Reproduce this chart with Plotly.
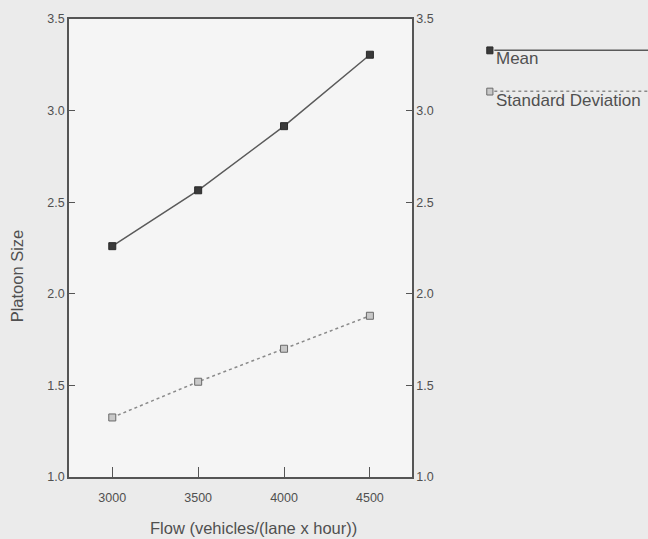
import plotly.graph_objects as go

flow = [3000, 3500, 4000, 4500]
mean_size = [2.26, 2.565, 2.915, 3.305]
sd_size = [1.325, 1.52, 1.70, 1.88]
x_ticks = [3000, 3500, 4000, 4500]
y_ticks = [1.0, 1.5, 2.0, 2.5, 3.0, 3.5]

font = "Liberation Sans, Arial, sans-serif"
axc = "#555555"
txt = "#505050"

fig = go.Figure()
fig.add_trace(go.Scatter(
    x=flow, y=mean_size, mode="lines+markers", name="Mean",
    line=dict(color="#5a5a5a", width=1.5),
    marker=dict(symbol="square", size=7, color="#3a3a3a", line=dict(color="#2a2a2a", width=1)),
    showlegend=False))
fig.add_trace(go.Scatter(
    x=flow, y=sd_size, mode="lines+markers", name="Standard Deviation",
    line=dict(color="#8a8a8a", width=1.5, dash="dot"),
    marker=dict(symbol="square", size=7, color="#c8c8c8", line=dict(color="#6a6a6a", width=1)),
    showlegend=False))
fig.add_trace(go.Scatter(x=flow, y=mean_size, yaxis="y2", mode="none",
                         hoverinfo="skip", showlegend=False))

fig.update_layout(
    width=648, height=539,
    margin=dict(l=69, r=236, t=14, b=62),
    paper_bgcolor="#ebebeb", plot_bgcolor="#f5f5f5",
    font=dict(family=font, color=txt, size=12),
    xaxis=dict(range=[2748, 4745], tickvals=x_ticks, ticks="inside", ticklen=10,
               tickcolor=axc, showline=True, linecolor=axc, linewidth=1.5,
               showgrid=False, zeroline=False, mirror=True,
               tickfont=dict(size=12.5), ticklabelstandoff=8),
    yaxis=dict(range=[1.0, 3.5], tickvals=y_ticks, tickformat=".1f", ticks="inside",
               ticklen=6, tickcolor=axc, showline=True, linecolor=axc, linewidth=1.5,
               showgrid=False, zeroline=False, tickfont=dict(size=12.5)),
    yaxis2=dict(range=[1.0, 3.5], tickvals=y_ticks, tickformat=".1f", overlaying="y",
                side="right", ticks="inside", ticklen=6, tickcolor=axc, showline=True,
                linecolor=axc, linewidth=1.5, showgrid=False, zeroline=False,
                tickfont=dict(size=12.5)),
)

# axis titles
fig.add_annotation(xref="paper", yref="paper", x=0.539, y=-0.112, text="Flow (vehicles/(lane x hour))",
                   showarrow=False, xanchor="center", yanchor="middle",
                   font=dict(size=16.5, color=txt))
fig.add_annotation(xref="paper", yref="paper", x=-0.149, y=0.44, text="Platoon Size",
                   showarrow=False, textangle=-90, xanchor="center", yanchor="middle",
                   font=dict(size=16.5, color=txt))

# custom legend (line above label, extending to the right edge)
fig.add_shape(type="line", xref="paper", yref="paper", x0=1.24, x1=1.69, y0=0.932, y1=0.932,
              line=dict(color="#5a5a5a", width=1.5))
fig.add_shape(type="rect", xref="paper", yref="paper", x0=1.218, x1=1.236, y0=0.924, y1=0.939,
              line=dict(color="#2a2a2a", width=1), fillcolor="#3a3a3a")
fig.add_annotation(xref="paper", yref="paper", x=1.238, y=0.914, text="Mean", showarrow=False,
                   xanchor="left", yanchor="middle", font=dict(size=17, color=txt))
fig.add_shape(type="line", xref="paper", yref="paper", x0=1.24, x1=1.69, y0=0.842, y1=0.842,
              line=dict(color="#8a8a8a", width=1.5, dash="dot"))
fig.add_shape(type="rect", xref="paper", yref="paper", x0=1.218, x1=1.236, y0=0.834, y1=0.849,
              line=dict(color="#6a6a6a", width=1), fillcolor="#c8c8c8")
fig.add_annotation(xref="paper", yref="paper", x=1.238, y=0.822, text="Standard Deviation",
                   showarrow=False, xanchor="left", yanchor="middle",
                   font=dict(size=17, color=txt))

fig.write_html("out.html", config={"displayModeBar": False},
               post_script="document.body.style.margin='0px';")
